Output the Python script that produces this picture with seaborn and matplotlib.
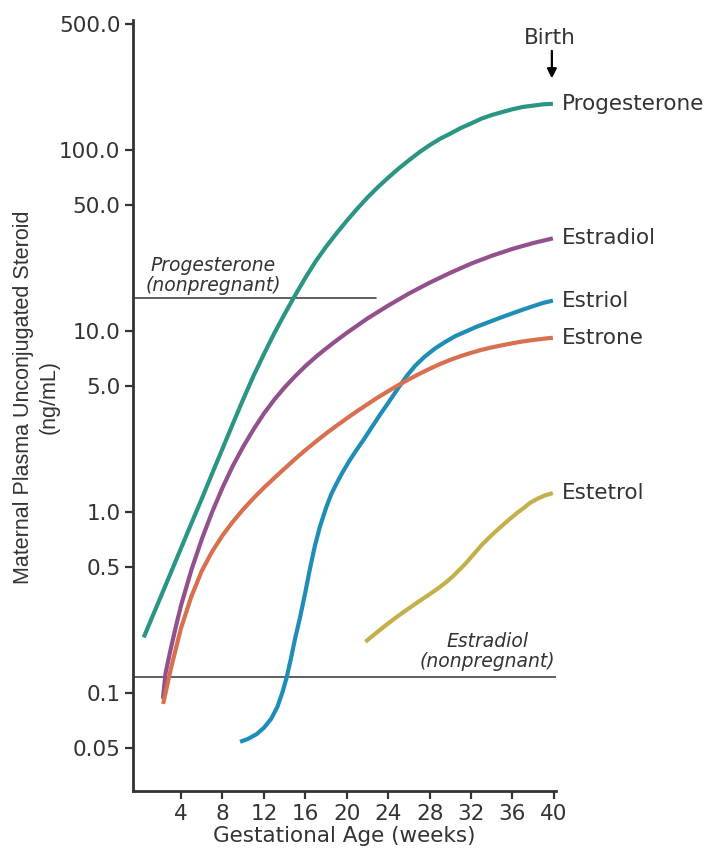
import matplotlib
matplotlib.use("Agg")
import matplotlib.pyplot as plt
from matplotlib.ticker import NullLocator, FixedLocator
import pandas as pd
import seaborn as sns

# Maternal plasma unconjugated steroids across gestation (ng/mL)
prog_weeks = [0.4, 1, 2, 3, 4, 5, 6, 7, 8, 9, 10, 11, 12, 13, 14, 15, 16, 17, 18, 19, 20,
              21, 22, 23, 24, 25, 26, 27, 28, 29, 30, 31, 32, 33, 34, 35, 36, 37, 38, 39, 39.9]
prog_vals = [0.204, 0.247, 0.338, 0.463, 0.635, 0.871, 1.19, 1.64, 2.25, 3.09, 4.22, 5.69,
             7.50, 9.77, 12.5, 15.8, 19.8, 24.4, 29.4, 34.8, 40.9, 47.6, 55.0, 62.7, 70.8,
             79.4, 88.3, 97.7, 107, 116, 124, 133, 141, 150, 157, 163, 169, 174, 177, 180, 181]

e2_weeks = [2.25, 2.5, 3.0, 3.5, 4.0, 5, 6, 7, 8, 9, 10, 11, 12, 13, 14, 15, 16, 17, 18, 19,
            20, 22, 24, 26, 28, 30, 32, 34, 36, 38, 39.9]
e2_vals = [0.0933, 0.129, 0.176, 0.234, 0.307, 0.481, 0.711, 1.005, 1.37, 1.81, 2.31, 2.88,
           3.52, 4.20, 4.91, 5.65, 6.43, 7.23, 8.05, 8.91, 9.82, 11.8, 13.9, 16.2, 18.6,
           21.1, 23.7, 26.2, 28.6, 30.8, 32.7]

e3_weeks = [9.7, 10.5, 11.3, 12.0, 12.7, 13.3, 13.8, 14.2, 14.6, 15.0, 15.5, 16.0, 16.45,
            16.9, 17.4, 18.0, 18.5, 19.05, 19.6, 20.3, 21.0, 21.6, 22.4, 23.3, 24.2, 25.0,
            25.8, 26.6, 27.5, 28.5, 29.5, 30.5, 31.5, 32.5, 33.6, 34.8, 36.0, 37.0, 38.0,
            39.0, 39.9]
e3_vals = [0.054, 0.0562, 0.0596, 0.0646, 0.0724, 0.0843, 0.102, 0.123, 0.155, 0.20, 0.265,
           0.363, 0.49, 0.646, 0.832, 1.06, 1.26, 1.46, 1.67, 1.95, 2.24, 2.51, 2.95, 3.53,
           4.19, 4.90, 5.69, 6.46, 7.24, 8.04, 8.75, 9.44, 10.0, 10.6, 11.2, 11.9, 12.6,
           13.2, 13.8, 14.4, 14.8]

e1_weeks = [2.27, 2.5, 3.0, 3.5, 4.0, 5, 6, 7, 8, 9, 10, 11, 12, 13, 14, 15, 16, 17, 18,
            19, 20, 21, 22, 23, 24, 25, 26, 27, 28, 29, 30, 31, 32, 33, 34, 35, 36, 37, 38,
            39, 39.9]
e1_vals = [0.0875, 0.1005, 0.1355, 0.177, 0.230, 0.344, 0.475, 0.608, 0.746, 0.889, 1.04,
           1.20, 1.37, 1.55, 1.75, 1.97, 2.21, 2.46, 2.73, 3.01, 3.31, 3.63, 3.96, 4.32,
           4.68, 5.06, 5.44, 5.83, 6.22, 6.61, 6.97, 7.31, 7.62, 7.91, 8.17, 8.39, 8.61,
           8.81, 8.97, 9.12, 9.23]

e4_weeks = [21.8, 22.8, 23.8, 24.8, 25.8, 26.8, 27.8, 28.8, 29.6, 30.3, 31.0, 31.6, 32.3,
            33.1, 34.0, 34.8, 35.6, 36.4, 37.1, 37.7, 38.4, 39.1, 39.9]
e4_vals = [0.193, 0.215, 0.239, 0.264, 0.290, 0.318, 0.347, 0.380, 0.412, 0.447, 0.490,
           0.532, 0.592, 0.668, 0.750, 0.826, 0.906, 0.989, 1.06, 1.13, 1.19, 1.24, 1.28]

steroids = ["Progesterone", "Estradiol", "Estriol", "Estrone", "Estetrol"]
colors = ["#2a9583", "#92508d", "#1e8db8", "#d8704f", "#c4b04a"]

nonpreg_prog = 15.3
nonpreg_e2 = 0.123

ytick_vals = [500, 100, 50, 10, 5, 1, 0.5, 0.1, 0.05]
ytick_labels = ["500.0", "100.0", "50.0", "10.0", "5.0", "1.0", "0.5", "0.1", "0.05"]
xtick_vals = [4, 8, 12, 16, 20, 24, 28, 32, 36, 40]

series = {
    "Progesterone": (prog_weeks, prog_vals),
    "Estradiol": (e2_weeks, e2_vals),
    "Estriol": (e3_weeks, e3_vals),
    "Estrone": (e1_weeks, e1_vals),
    "Estetrol": (e4_weeks, e4_vals),
}
df = pd.concat(
    [pd.DataFrame({"week": w, "value": v, "steroid": name}) for name, (w, v) in series.items()],
    ignore_index=True,
)

sns.set_style("ticks")
plt.rcParams["font.family"] = ["DejaVu Sans"]
ink = "#333333"

fig = plt.figure(figsize=(7.1, 8.55), dpi=100)
ax = fig.add_axes([133 / 710, 1 - 791 / 855, (556 - 133) / 710, (791 - 20) / 855])

sns.lineplot(
    data=df, x="week", y="value", hue="steroid", hue_order=steroids,
    palette=dict(zip(steroids, colors)), estimator=None, sort=False,
    linewidth=3.0, legend=False, ax=ax,
)
for line in ax.get_lines():
    line.set_solid_capstyle("butt")
    line.set_solid_joinstyle("round")

ax.set_yscale("log")
ax.set_xlim(-0.64, 40.2)
ax.set_ylim(0.0289, 526)

# non-pregnant reference levels
ax.plot([-0.64, 22.8], [nonpreg_prog, nonpreg_prog], color="#444444", lw=1.2, zorder=1)
ax.axhline(nonpreg_e2, color="#444444", lw=1.2, zorder=1)
ax.text(7.1, 20.3, "Progesterone\n(nonpregnant)", ha="center", va="center",
        style="italic", fontsize=13.5, color=ink, linespacing=1.05)
ax.text(33.6, 0.17, "Estradiol\n(nonpregnant)", ha="center", va="center",
        style="italic", fontsize=13.5, color=ink, linespacing=1.05)

# curve labels at the term end
for name in steroids:
    w, v = series[name]
    ax.text(40.75, v[-1], name, ha="left", va="center", fontsize=15.5,
            color=ink, clip_on=False)

ax.text(39.6, 419, "Birth", ha="center", va="center", fontsize=15.5, color=ink)
ax.annotate("", xy=(39.8, 250), xytext=(39.8, 355),
            arrowprops=dict(arrowstyle="-|>", color="black", lw=1.6,
                            mutation_scale=14, shrinkA=0, shrinkB=0))

ax.yaxis.set_major_locator(FixedLocator(ytick_vals))
ax.set_yticklabels(ytick_labels)
ax.yaxis.set_minor_locator(NullLocator())
ax.set_xticks(xtick_vals)
ax.set_xticklabels([str(t) for t in xtick_vals])

for side in ["top", "right"]:
    ax.spines[side].set_visible(False)
for side in ["left", "bottom"]:
    ax.spines[side].set_color(ink)
    ax.spines[side].set_linewidth(2.0)
ax.tick_params(axis="both", direction="out", length=6, width=1.6, color=ink,
               labelsize=15.5, labelcolor=ink, pad=3)

ax.set_xlabel("Gestational Age (weeks)", fontsize=15.5, color=ink, labelpad=2)
ax.set_ylabel("")
fig.text(36 / 710, 1 - 397 / 855, "Maternal Plasma Unconjugated Steroid\n(ng/mL)",
         rotation=90, ha="center", va="center", multialignment="center",
         fontsize=15.5, family="Liberation Sans", color=ink, linespacing=1.3)

fig.savefig("out.png", dpi=100)
